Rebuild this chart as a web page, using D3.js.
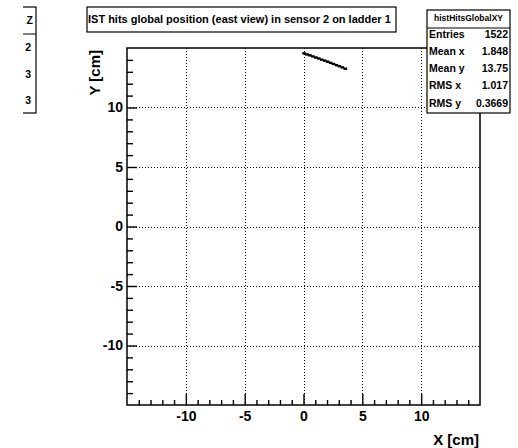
<!DOCTYPE html>
<html><head><meta charset="utf-8">
<script src="https://cdn.jsdelivr.net/npm/d3@7"></script>
<style>
body{margin:0;background:#fff;}
svg{display:block;font-family:"Liberation Sans",Arial,Helvetica,sans-serif;font-weight:bold;}
</style></head>
<body>
<script>
// ---- data ----
const titleText = "IST hits global position (east view) in sensor 2 on ladder 1";
const xLabel = "X [cm]";
const yLabel = "Y [cm]";
const xDomain = [-15, 15];
const yDomain = [-15, 15];
const majorTicks = [-10, -5, 0, 5, 10];
const minorTicks = [-14,-13,-12,-11,-9,-8,-7,-6,-4,-3,-2,-1,1,2,3,4,6,7,8,9,11,12,13,14];
// hit positions (cm)
const hitX = [0.05, 0.3, 0.55, 0.8, 1.05, 1.3, 1.55, 1.8, 2.05, 2.3, 2.55, 2.8, 3.05, 3.3, 3.55];
const hitY = [14.55, 14.46, 14.38, 14.29, 14.2, 14.12, 14.02, 13.94, 13.85, 13.75, 13.66, 13.56, 13.47, 13.37, 13.26];
const statsName = "histHitsGlobalXY";
const statsLabels = ["Entries", "Mean x", "Mean y", "RMS x", "RMS y"];
const statsValues = ["1522", "1.848", "13.75", "1.017", "0.3669"];
const leftBoxHeader = "Z";
const leftBoxValues = ["2", "3", "3"];

// ---- drawing ----
const W = 518, H = 448;
const svg = d3.select("body").append("svg").attr("width", W).attr("height", H);
const x = d3.scaleLinear().domain(xDomain).range([127, 480]);
const y = d3.scaleLinear().domain(yDomain).range([405, 48]);
const fmt = d => String(d);

// grid
const grid = svg.append("g").attr("stroke", "#000").attr("stroke-width", 1).attr("stroke-dasharray", "1,2");
grid.selectAll(".gx").data(majorTicks).join("line")
  .attr("x1", d => Math.round(x(d)) + 0.5).attr("x2", d => Math.round(x(d)) + 0.5)
  .attr("y1", y.range()[1]).attr("y2", y.range()[0]);
grid.selectAll(".gy").data(majorTicks).join("line")
  .attr("y1", d => Math.round(y(d)) + 0.5).attr("y2", d => Math.round(y(d)) + 0.5)
  .attr("x1", x.range()[0]).attr("x2", x.range()[1]);

// data points
const pts = hitX.map((v, i) => [v, hitY[i]]);
svg.append("g").selectAll("rect").data(pts).join("rect")
  .attr("x", d => x(d[0]) - 1.8).attr("y", d => y(d[1]) - 1.2)
  .attr("width", 3.6).attr("height", 2.4).attr("fill", "#000");

// axes
const axStyle = g => {
  g.selectAll("path,line").attr("stroke", "#000").attr("stroke-width", 1.4);
  g.selectAll("text").attr("fill", "#000").style("font-size", "14px").style("font-weight", "bold");
};
svg.append("g").attr("transform", `translate(0,405)`)
  .call(d3.axisBottom(x).tickValues(majorTicks).tickSizeInner(-11).tickSizeOuter(0).tickPadding(6).tickFormat(fmt))
  .call(axStyle).call(g => g.select(".domain").remove());
svg.append("g").attr("transform", `translate(0,405)`)
  .call(d3.axisBottom(x).tickValues(minorTicks).tickSizeInner(-5).tickSizeOuter(0).tickFormat(""))
  .call(axStyle).call(g => g.select(".domain").remove());
svg.append("g").attr("transform", `translate(127,0)`)
  .call(d3.axisLeft(y).tickValues(majorTicks).tickSizeInner(-10).tickSizeOuter(0).tickPadding(4).tickFormat(fmt))
  .call(axStyle).call(g => g.select(".domain").remove());
svg.append("g").attr("transform", `translate(127,0)`)
  .call(d3.axisLeft(y).tickValues(minorTicks).tickSizeInner(-6).tickSizeOuter(0).tickFormat(""))
  .call(axStyle).call(g => g.select(".domain").remove());

// frame
svg.append("rect").attr("x", 127).attr("y", 48).attr("width", 353).attr("height", 357)
  .attr("fill", "none").attr("stroke", "#000").attr("stroke-width", 1.5);

// axis titles
svg.append("text").attr("x", 479).attr("y", 445).attr("text-anchor", "end")
  .style("font-size", "15px").text(xLabel);
svg.append("text").attr("transform", "translate(100,50) rotate(-90)").attr("text-anchor", "end")
  .style("font-size", "15px").text(yLabel);

// title box
svg.append("rect").attr("x", 87).attr("y", 7).attr("width", 309).attr("height", 25)
  .attr("fill", "#fff").attr("stroke", "#000").attr("stroke-width", 1.2);
const tt = svg.append("text").attr("x", 88).attr("y", 23).style("font-size", "10px").text(titleText);
const tl = tt.node().getComputedTextLength();
tt.style("font-size", (10 * 303 / tl).toFixed(2) + "px");

// stats box
const sb = svg.append("g");
sb.append("rect").attr("x", 427).attr("y", 10).attr("width", 83).attr("height", 103)
  .attr("fill", "#fff").attr("stroke", "#000").attr("stroke-width", 1.2);
sb.append("line").attr("x1", 427).attr("x2", 510).attr("y1", 28).attr("y2", 28)
  .attr("stroke", "#000").attr("stroke-width", 1);
sb.append("text").attr("x", 468.5).attr("y", 20.5).attr("text-anchor", "middle")
  .style("font-size", "8.5px").text(statsName);
statsLabels.forEach((l, i) => {
  const yy = 37.5 + i * 17.3;
  sb.append("text").attr("x", 429).attr("y", yy).style("font-size", "10.5px").text(l);
  sb.append("text").attr("x", 508).attr("y", yy).attr("text-anchor", "end").style("font-size", "10.5px").text(statsValues[i]);
});

// partial left box (clipped by neighbouring pad)
svg.append("clipPath").attr("id", "lc").append("rect").attr("x", 23).attr("y", 0).attr("width", 20).attr("height", 130);
const lb = svg.append("g").attr("clip-path", "url(#lc)");
lb.append("rect").attr("x", 0).attr("y", 7).attr("width", 36).attr("height", 106)
  .attr("fill", "#fff").attr("stroke", "#000").attr("stroke-width", 1.2);
lb.append("line").attr("x1", 0).attr("x2", 36).attr("y1", 34).attr("y2", 34).attr("stroke", "#000").attr("stroke-width", 1);
lb.append("text").attr("x", 33).attr("y", 24).attr("text-anchor", "end").style("font-size", "10.5px").text(leftBoxHeader);
leftBoxValues.forEach((v, i) => {
  lb.append("text").attr("x", 31).attr("y", 51 + i * 26.5).attr("text-anchor", "end").style("font-size", "10.5px").text(v);
});
</script>
</body></html>
